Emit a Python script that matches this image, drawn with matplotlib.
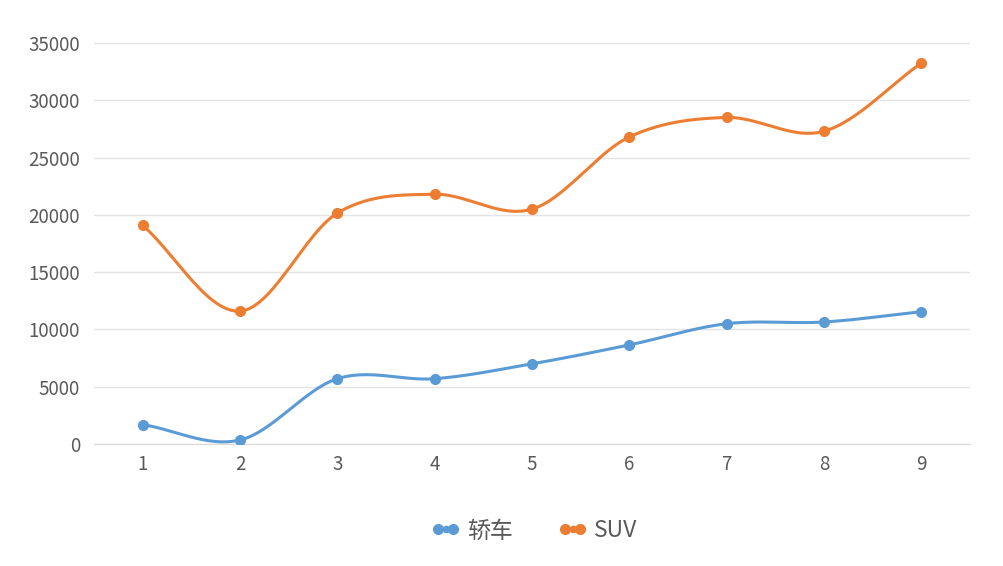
import numpy as np
import matplotlib
matplotlib.use("Agg")
from matplotlib import pyplot as plt
from matplotlib.lines import Line2D
from matplotlib.legend_handler import HandlerLine2D

plt.rcParams['font.family'] = ['Noto Sans CJK SC', 'DejaVu Sans']

### data ###
categories = [1, 2, 3, 4, 5, 6, 7, 8, 9]
sedan = [1700, 350, 5700, 5700, 7000, 8650, 10500, 10650, 11550]
suv = [19100, 11600, 20150, 21800, 20500, 26800, 28500, 27300, 33250]
series_names = ['轿车', 'SUV']
colors = ['#5B9BD5', '#ED7D31']


def smooth_curve(x, y, steps=30):
    # Catmull-Rom spline through the points, like the office "smoothed line"
    x = np.asarray(x, dtype=float)
    y = np.asarray(y, dtype=float)
    px = np.concatenate([[2 * x[0] - x[1]], x, [2 * x[-1] - x[-2]]])
    py = np.concatenate([[2 * y[0] - y[1]], y, [2 * y[-1] - y[-2]]])
    xs, ys = [], []
    t = np.linspace(0, 1, steps)
    for i in range(1, len(px) - 2):
        for p, out in ((px, xs), (py, ys)):
            p0, p1, p2, p3 = p[i - 1], p[i], p[i + 1], p[i + 2]
            seg = 0.5 * ((2 * p1) + (-p0 + p2) * t
                         + (2 * p0 - 5 * p1 + 4 * p2 - p3) * t ** 2
                         + (-p0 + 3 * p1 - 3 * p2 + p3) * t ** 3)
            out.extend(seg)
    return np.array(xs), np.array(ys)


fig = plt.figure(figsize=(10.04, 5.66), dpi=100)
ax = fig.add_axes([0.0936, 0.2155, 0.8725, 0.7085])

handles = []
hmap = {}
for vals, name, col in zip([sedan, suv], series_names, colors):
    sx, sy = smooth_curve(categories, vals)
    ax.plot(sx, sy, color=col, lw=2.2, solid_capstyle='round', zorder=3)
    ax.plot(categories, vals, 'o', color=col, ms=7, zorder=4)
    # legend swatch: big dots at both ends, small dot in the middle
    big = Line2D([0], [0], color=col, lw=2.2, marker='o', ms=7)
    small = Line2D([0], [0], color=col, lw=0, marker='o', ms=4.5)
    hmap[small] = HandlerLine2D(numpoints=1)
    handles.append((big, small))

ax.set_xlim(0.5, 9.5)
ax.set_ylim(0, 35000)
ax.set_yticks(np.arange(0, 35001, 5000))
ax.set_xticks(categories)
ax.grid(axis='y', color='#E3E3E3', lw=1)
ax.set_axisbelow(True)
for s in ['top', 'right', 'left']:
    ax.spines[s].set_visible(False)
ax.spines['bottom'].set_color('#D9D9D9')
ax.tick_params(length=0, labelsize=13.5, labelcolor='#595959')
ax.tick_params(axis='y', pad=10)
ax.tick_params(axis='x', pad=7)

fig.legend(handles, series_names, handler_map=hmap, loc='center',
           bbox_to_anchor=(0.532, 0.062), ncol=2, frameon=False,
           fontsize=16.5, numpoints=2, handlelength=1.25,
           columnspacing=2.0, handletextpad=0.3, labelcolor='#595959')

fig.savefig('out.png', dpi=100, facecolor='white')
